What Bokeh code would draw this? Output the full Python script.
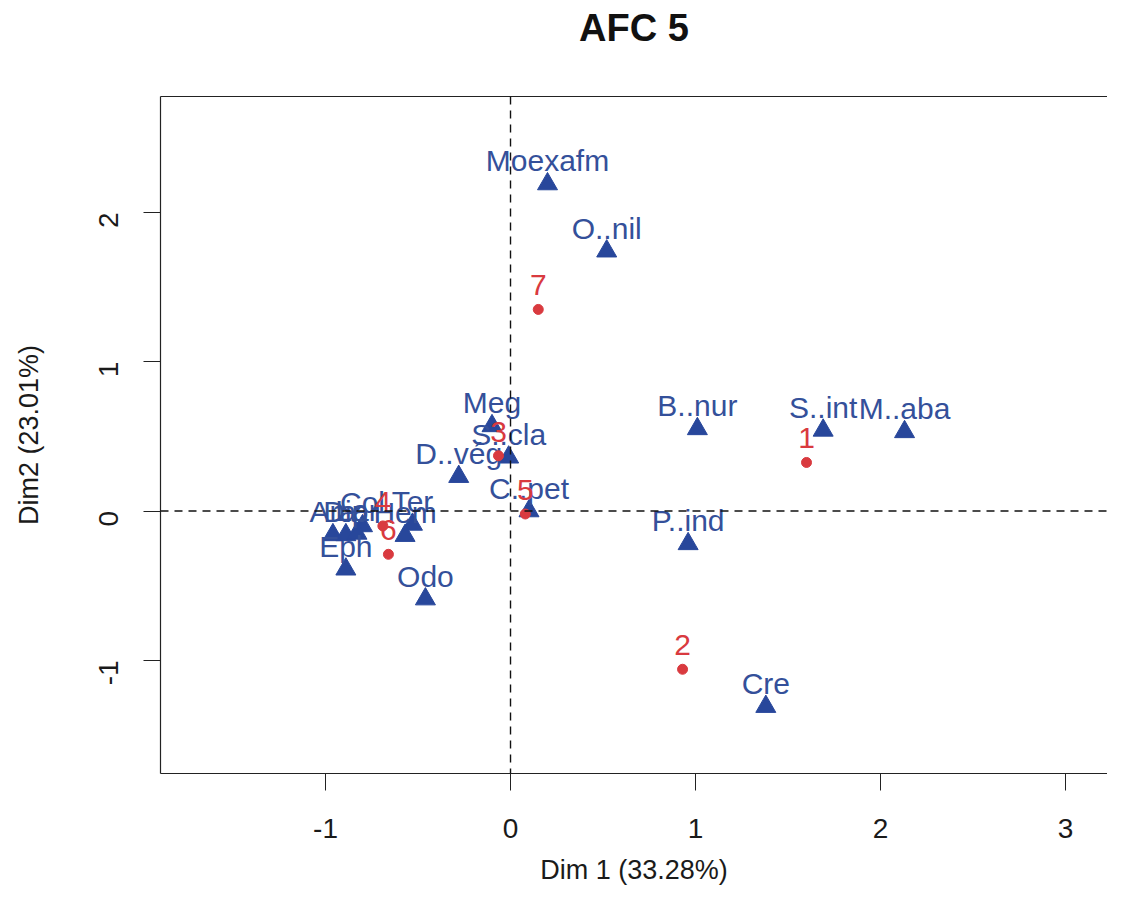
import math
from bokeh.plotting import figure
from bokeh.models import ColumnDataSource, Span, FixedTicker, LinearAxis
from bokeh.core.properties import value
from bokeh.embed import file_html
from bokeh.resources import INLINE

title_text = "AFC 5"
x_title = "Dim 1 (33.28%)"
y_title = "Dim2 (23.01%)"
x_ticks = [-1, 0, 1, 2, 3]
y_ticks = [-1, 0, 1, 2]

# column points (blue triangles)
col_labels = ["Moexafm", "O..nil", "Meg", "S..cla", "D..vég", "C..pet", "B..nur",
              "S..int", "M..aba", "P..ind", "Cre", "Odo", "Eph", "Col", "Ter",
              "Hem", "Ara", "Dip", "Lar"]
col_dim1 = [0.20, 0.52, -0.10, -0.01, -0.28, 0.10, 1.01, 1.69, 2.13, 0.96, 1.38,
            -0.46, -0.89, -0.80, -0.53, -0.57, -0.96, -0.89, -0.83]
col_dim2 = [2.19, 1.74, 0.57, 0.36, 0.23, 0.00, 0.55, 0.54, 0.53, -0.22, -1.31,
            -0.59, -0.39, -0.10, -0.09, -0.165, -0.16, -0.16, -0.15]

# row points (red dots)
row_labels = ["1", "2", "3", "4", "5", "6", "7"]
row_dim1 = [1.60, 0.93, -0.065, -0.69, 0.08, -0.66, 0.15]
row_dim2 = [0.325, -1.06, 0.37, -0.10, -0.02, -0.29, 1.35]

BLUE = "#28479b"
BLUE_TXT = "#34509a"
RED = "#d93a3f"
FONT = "Liberation Sans"

p = figure(width=1107, height=898, output_backend="svg", toolbar_location=None,
           title=None,
           x_range=(-1.892, 3.227), y_range=(-1.758, 2.776),
           min_border_left=160, min_border_top=96, min_border_right=0,
           min_border_bottom=125)
p.outline_line_color = None
p.grid.visible = False
p.background_fill_color = "white"
p.border_fill_color = "white"

for ax in (p.xaxis[0], p.yaxis[0]):
    ax.axis_line_color = "#222222"
    ax.axis_line_width = 1.2
    ax.major_tick_line_color = "#222222"
    ax.major_tick_out = 17
    ax.major_tick_in = 0
    ax.minor_tick_line_color = None
    ax.major_label_text_font = FONT
    ax.major_label_text_font_size = "28px"
    ax.major_label_text_color = "#1a1a1a"
    ax.axis_label_text_font = FONT
    ax.axis_label_text_font_size = "27px"
    ax.axis_label_text_font_style = "normal"
    ax.axis_label_text_color = "#1a1a1a"

p.xaxis[0].ticker = FixedTicker(ticks=x_ticks)
p.yaxis[0].ticker = FixedTicker(ticks=y_ticks)
p.xaxis[0].major_label_overrides = {t: str(t) for t in x_ticks}
p.yaxis[0].major_label_overrides = {t: str(t) for t in y_ticks}
p.xaxis[0].axis_label = x_title
p.yaxis[0].axis_label = y_title
p.xaxis[0].major_label_standoff = 28
p.xaxis[0].axis_label_standoff = 14
p.yaxis[0].major_label_standoff = 35
p.yaxis[0].axis_label_standoff = 43
p.yaxis[0].major_label_orientation = math.pi / 2

# top frame line carrying the chart title
top_axis = LinearAxis(ticker=FixedTicker(ticks=[]))
top_axis.axis_line_color = "#222222"
top_axis.axis_line_width = 1.2
top_axis.major_tick_line_color = None
top_axis.minor_tick_line_color = None
top_axis.major_label_text_color = None
top_axis.axis_label = title_text
top_axis.axis_label_text_font = FONT
top_axis.axis_label_text_font_size = "38px"
top_axis.axis_label_text_font_style = "bold"
top_axis.axis_label_text_color = "#111111"
top_axis.axis_label_standoff = 48
p.add_layout(top_axis, "above")

p.add_layout(Span(location=0, dimension="height", line_color="#111111",
                  line_dash="8 6", line_width=1.4))
p.add_layout(Span(location=0, dimension="width", line_color="#111111",
                  line_dash="8 6", line_width=1.4))

cols = ColumnDataSource(dict(x=col_dim1, y=col_dim2, lab=col_labels))
rows = ColumnDataSource(dict(x=row_dim1, y=row_dim2, lab=row_labels))

p.scatter("x", "y", source=cols, marker="triangle", size=20,
          fill_color=BLUE, line_color=BLUE)
p.text("x", "y", text="lab", source=cols, text_font=value(FONT),
       text_font_size="30px", text_color=BLUE_TXT, text_align="center",
       text_baseline="middle", y_offset=-23)

p.scatter("x", "y", source=rows, marker="circle", size=10,
          fill_color=RED, line_color=RED)
p.text("x", "y", text="lab", source=rows, text_font=value(FONT),
       text_font_size="30px", text_color=RED, text_align="center",
       text_baseline="middle", y_offset=-24)

open("out.html", "w").write(file_html(p, INLINE))
